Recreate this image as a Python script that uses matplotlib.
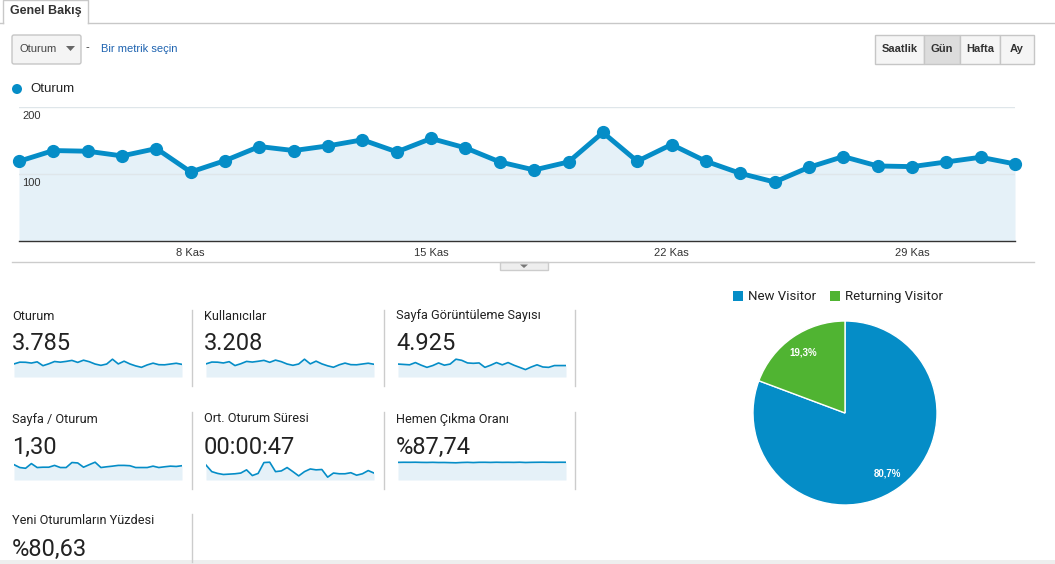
import numpy as np
import pandas as pd
import matplotlib
matplotlib.use("Agg")
import matplotlib.pyplot as plt
from matplotlib.patches import Rectangle, FancyBboxPatch, Polygon, Circle

# ---- data ----
dates = pd.date_range("2017-11-03", periods=30, freq="D")
sessions = [119, 135, 134, 127, 138, 103, 120, 141, 135, 142,
            151, 133, 153, 139, 118, 106, 118, 162, 119, 144,
            119, 101, 88, 110, 126, 112, 111, 118, 125, 115]
users = [101, 115, 114, 108, 118, 88, 102, 120, 115, 121,
         128, 113, 130, 118, 100, 90, 100, 137, 101, 122,
         101, 86, 75, 94, 107, 95, 94, 100, 106, 98]
pageviews = [173, 168, 163, 193, 158, 129, 153, 188, 158, 173,
             238, 223, 188, 183, 188, 129, 158, 193, 163, 193,
             158, 129, 99, 134, 163, 134, 129, 153, 153, 153]
pages_per_session = [1.44, 1.17, 1.10, 1.54, 1.17, 1.20, 1.20, 1.37, 1.17, 1.17,
                     1.64, 1.60, 1.20, 1.44, 1.67, 1.17, 1.24, 1.30, 1.37, 1.37,
                     1.34, 1.17, 1.17, 1.17, 1.30, 1.17, 1.24, 1.30, 1.27, 1.34]
avg_duration = [84, 47, 37, 31, 33, 35, 39, 57, 25, 37,
                98, 100, 47, 51, 70, 47, 23, 47, 62, 57,
                59, 16, 39, 35, 35, 41, 27, 35, 53, 39]
bounce_rate = [87.6, 88.1, 87.9, 88.3, 87.5, 87.2, 87.8, 86.9, 87.0, 86.2,
               85.5, 87.0, 87.8, 86.6, 87.9, 88.0, 87.4, 88.2, 87.6, 87.9,
               87.5, 88.3, 87.0, 87.7, 88.1, 88.4, 88.0, 87.9, 88.2, 88.1]

metric_names = ["Oturum", "Kullanıcılar", "Sayfa Görüntüleme Sayısı",
                "Sayfa / Oturum", "Ort. Oturum Süresi", "Hemen Çıkma Oranı",
                "Yeni Oturumların Yüzdesi"]
metric_values = ["3.785", "3.208", "4.925", "1,30", "00:00:47", "%87,74", "%80,63"]
metric_series = [sessions, users, pageviews, pages_per_session, avg_duration, bounce_rate, None]

visitor_types = ["New Visitor", "Returning Visitor"]
visitor_share = [80.7, 19.3]

y_ticks = [100, 200]
tick_days = [8, 15, 22, 29]
intervals = ["Saatlik", "Gün", "Hafta", "Ay"]

BLUE = "#058dc7"
GREEN = "#50b432"
FILL = "#e5f1f8"
TXT = "#222222"

W, H = 1055, 564
fig = plt.figure(figsize=(W / 100, H / 100), dpi=100)
fig.patch.set_facecolor("white")


def rect(x0, y0, x1, y1):
    # pixel box (top-left origin) -> figure fraction
    return [x0 / W, 1 - y1 / H, (x1 - x0) / W, (y1 - y0) / H]


# background axes in pixel coordinates for the UI chrome
bg = fig.add_axes([0, 0, 1, 1])
bg.set_xlim(0, W)
bg.set_ylim(H, 0)
bg.axis("off")

ARIAL = ["Liberation Sans", "DejaVu Sans"]
ROBOTO = ["Roboto", "DejaVu Sans"]

# tab
bg.plot([0, 3], [23, 23], color="#c8c8c8", lw=1)
bg.plot([88, W], [23, 23], color="#c8c8c8", lw=1)
bg.plot([3, 3, 88, 88], [23, 0, 0, 23], color="#c8c8c8", lw=1)
bg.text(10, 11, "Genel Bakış", fontsize=9, fontweight="bold", family=ARIAL,
        color="#333333", va="center")

# metric dropdown
bg.add_patch(FancyBboxPatch((12, 35), 69, 29, boxstyle="round,pad=0,rounding_size=2",
                            fc="#f4f4f4", ec="#c6c6c6", lw=1))
bg.text(20, 49, "Oturum", fontsize=8, family=ARIAL, color="#444444", va="center")
bg.add_patch(Polygon([[66, 46], [75, 46], [70.5, 51]], closed=True, fc="#666666", ec="none"))
bg.text(86, 47, "-", fontsize=8, family=ARIAL, color="#333333", va="center")
bg.text(101, 49, "Bir metrik seçin", fontsize=8, family=ARIAL, color="#1e63b0", va="center")

# interval buttons
edges = [875, 924, 960, 1000, 1034]
for i, lab in enumerate(intervals):
    fc = "#dcdcdc" if lab == "Gün" else "#f5f5f5"
    bg.add_patch(Rectangle((edges[i], 35), edges[i + 1] - edges[i], 29,
                           fc=fc, ec="#c6c6c6", lw=1))
    bg.text((edges[i] + edges[i + 1]) / 2, 49, lab, fontsize=8, fontweight="bold",
            family=ARIAL, color="#333333", ha="center", va="center")

# legend of the main chart
bg.add_patch(Circle((17, 89), 5, fc=BLUE, ec="none"))
bg.text(30, 89.5, "Oturum", fontsize=9.5, family=ARIAL, color=TXT, va="center")

# line under the chart with the small handle
bg.plot([12, 1034], [262, 262], color="#cccccc", lw=1)
bg.add_patch(Rectangle((500, 262), 48, 8, fc="#eeeeee", ec="#cccccc", lw=1))
bg.add_patch(Polygon([[520, 264.5], [528, 264.5], [524, 268]], closed=True, fc="#777777", ec="none"))

# ---- main line chart ----
ax = fig.add_axes(rect(19, 107, 1015, 241))
x = np.arange(len(dates))
ax.fill_between(x, sessions, 0, color=FILL, zorder=0.5, lw=0)
for v in y_ticks:
    ax.axhline(v, color="#dfe6ea", lw=1, zorder=1)
ax.plot(x, sessions, color=BLUE, lw=3.5, marker="o", ms=8.5, zorder=3,
        clip_on=False, solid_joinstyle="round")
ax.set_xlim(0, len(dates) - 1)
ax.set_ylim(0, max(y_ticks))
for v in y_ticks:
    ax.annotate(str(v), (0, v), xytext=(3, -9), textcoords="offset pixels",
                fontsize=8, family=ARIAL, color="#333333", va="center", ha="left")
tick_pos = [i for i, d in enumerate(dates) if d.day in tick_days]
ax.set_xticks(tick_pos)
ax.set_xticklabels([f"{dates[i].day} Kas" for i in tick_pos], fontsize=8,
                   family=ARIAL, color="#333333")
ax.tick_params(axis="x", length=0, pad=5)
ax.set_yticks([])
for s in ["top", "left", "right"]:
    ax.spines[s].set_visible(False)
ax.spines["bottom"].set_color("#333333")
ax.spines["bottom"].set_linewidth(1)
ax.set_facecolor("none")

# ---- scorecards with sparklines ----
col_x = [12, 204, 396]
row_label_y = [316, 419, 521]
row_value_y = [344, 447, 549]
spark_top = [356, 459]
spark_bottom = [377, 480]

for k, (name, val, series) in enumerate(zip(metric_names, metric_values, metric_series)):
    r, c = divmod(k, 3)
    cx = col_x[c]
    bg.text(cx, row_label_y[r], name, fontsize=9.2, family=ROBOTO, color=TXT, va="center")
    bg.text(cx, row_value_y[r], val, fontsize=17, family=ROBOTO, color=TXT, va="center")
    if series is not None:
        sa = fig.add_axes(rect(cx + 2, spark_top[r], cx + 170, spark_bottom[r]))
        sx = np.arange(len(series))
        sa.fill_between(sx, series, 0, color=FILL, lw=0)
        sa.plot(sx, series, color=BLUE, lw=1.2)
        sa.set_xlim(0, len(series) - 1)
        sa.set_ylim(0, max(series) * 1.18)
        sa.axis("off")

# column separators
sep_rows = [(310, 386, 3), (412, 489, 3), (514, 562, 1)]
for y0, y1, n in sep_rows:
    for xs in [192, 384, 575][:n]:
        bg.plot([xs, xs], [y0, y1], color="#cccccc", lw=1)

# ---- pie ----
pa = fig.add_axes(rect(753, 321, 937, 505))
wedges, _, autotexts = pa.pie(
    visitor_share, colors=[BLUE, GREEN], startangle=90, counterclock=False,
    autopct=lambda p: f"{p:.1f}%".replace(".", ","), pctdistance=0.8,
    wedgeprops=dict(edgecolor="white", linewidth=1),
    textprops=dict(color="white", fontsize=7, fontweight="bold", family=ARIAL))
pa.set_xlim(-1, 1)
pa.set_ylim(-1, 1)
pa.set_aspect("equal")

# pie legend
leg_x = [733, 830]
for lx, lab, col in zip(leg_x, visitor_types, [BLUE, GREEN]):
    bg.add_patch(Rectangle((lx, 291), 10, 10, fc=col, ec="none"))
    bg.text(lx + 15, 296.5, lab, fontsize=9.5, family=ROBOTO, color=TXT, va="center")

# bottom strip
bg.add_patch(Rectangle((0, 560), W, 4, fc="#eeeeee", ec="none"))

fig.savefig("out.png", dpi=100)
